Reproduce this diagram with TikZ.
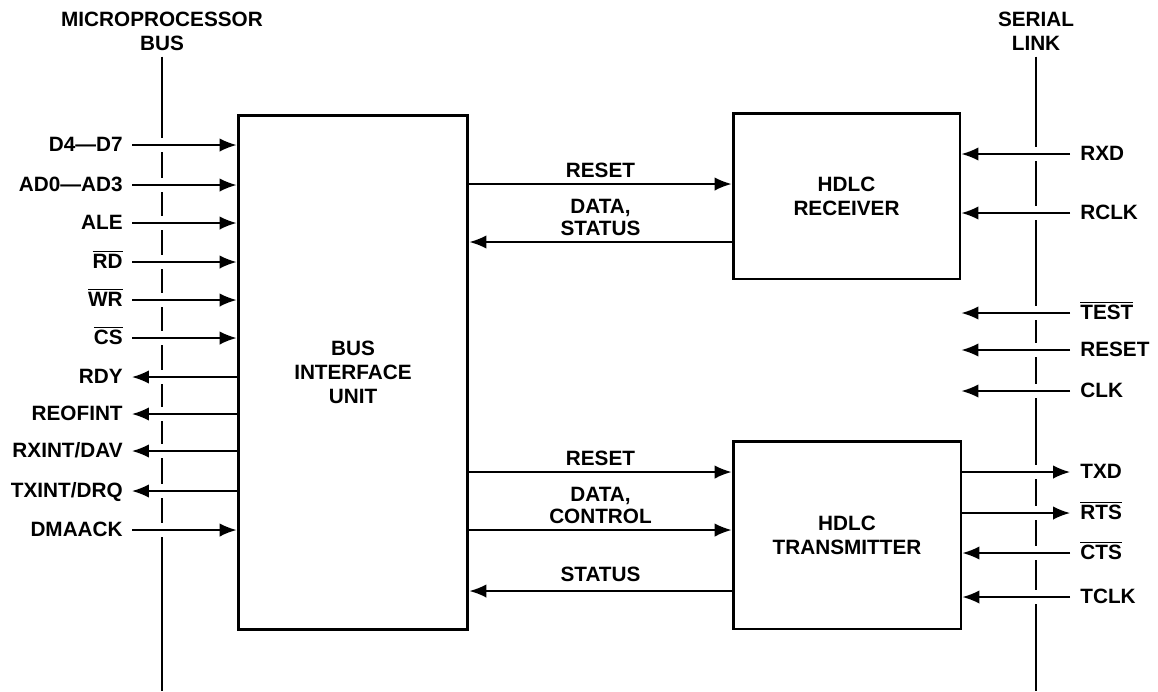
\documentclass[tikz,border=0pt]{standalone}
\usepackage{fontspec}
\setmainfont{Liberation Sans}
\usetikzlibrary{arrows.meta}
\newcommand{\ovl}[1]{$\overline{\mbox{#1}}$}

\begin{document}
\begin{tikzpicture}[x=0.02cm,y=-0.02cm,
	font=\bfseries\fontsize{11.8}{12.5}\selectfont,
	box/.style={draw,line width=1.7pt,align=center,inner sep=0pt,font=\bfseries\fontsize{11.8}{13.5}\selectfont},
	bus/.style={line width=1.3pt},
	wire/.style={line width=1pt},
	sig/.style={wire,preaction={draw=white,line width=0.28cm,arrows=-,shorten <=0.1cm,shorten >=0.1cm}},
	ahead/.style={-{Latex[length=0.34cm,width=0.27cm]}},
	lsig/.style={anchor=east,inner xsep=0.18cm,inner ysep=0pt,text height=0.72em,text depth=0pt},
	rsig/.style={anchor=west,inner xsep=0.2cm,inner ysep=0pt,text height=0.72em,text depth=0pt},
	mid/.style={midway,anchor=south,align=center,inner ysep=0.12cm,text depth=0pt}]
	\useasboundingbox (0,0) rectangle (1158,691);
	\coordinate (bot) at (0,691);

	% the two buses
	\node[align=center,inner sep=0.12cm,font=\bfseries\fontsize{11.8}{13.7}\selectfont] (mpbus) at (162,31) {MICROPROCESSOR\\BUS};
	\node[align=center,inner sep=0.12cm,font=\bfseries\fontsize{11.8}{13.7}\selectfont] (serlink) at (1036,31) {SERIAL\\LINK};
	\draw[bus] (mpbus.south) -- (mpbus.south |- bot);
	\draw[bus] (serlink.south) -- (serlink.south |- bot);

	% blocks
	\node[box,minimum width=4.6cm,minimum height=10.3cm] (biu) at (353,372.5) {BUS\\INTERFACE\\UNIT};
	\node[box,minimum width=4.54cm,minimum height=3.32cm] (rcv) at (846.5,196) {HDLC\\RECEIVER};
	\node[box,minimum width=4.56cm,minimum height=3.76cm] (xmt) at (847,535) {HDLC\\TRANSMITTER};

	% microprocessor side
	\node[lsig] (d47) at (132,145) {D4---D7};
	\node[lsig] (ad03) at (132,185) {AD0---AD3};
	\node[lsig] (ale) at (132,223) {ALE};
	\node[lsig] (rd) at (132,262) {\ovl{RD}};
	\node[lsig] (wr) at (132,300) {\ovl{WR}};
	\node[lsig] (cs) at (132,338) {\ovl{CS}};
	\node[lsig] (rdy) at (132,377) {RDY};
	\node[lsig] (reof) at (132,414) {REOFINT};
	\node[lsig] (rxint) at (132,451) {RXINT/DAV};
	\node[lsig] (txint) at (132,491) {TXINT/DRQ};
	\node[lsig] (dmaack) at (132,530) {DMAACK};
	\draw[sig,ahead] (d47) -- (d47 -| biu.west);
	\draw[sig,ahead] (ad03) -- (ad03 -| biu.west);
	\draw[sig,ahead] (ale) -- (ale -| biu.west);
	\draw[sig,ahead] (rd) -- (rd -| biu.west);
	\draw[sig,ahead] (wr) -- (wr -| biu.west);
	\draw[sig,ahead] (cs) -- (cs -| biu.west);
	\draw[sig,ahead] (rdy -| biu.west) -- (rdy);
	\draw[sig,ahead] (reof -| biu.west) -- (reof);
	\draw[sig,ahead] (rxint -| biu.west) -- (rxint);
	\draw[sig,ahead] (txint -| biu.west) -- (txint);
	\draw[sig,ahead] (dmaack) -- (dmaack -| biu.west);

	% serial side
	\node[rsig] (rxd) at (1070,154) {RXD};
	\node[rsig] (rclk) at (1070,213) {RCLK};
	\node[rsig] (test) at (1070,313) {\ovl{TEST}};
	\node[rsig] (reset) at (1070,350) {RESET};
	\node[rsig] (clk) at (1070,391) {CLK};
	\node[rsig] (txd) at (1070,472) {TXD};
	\node[rsig] (rts) at (1070,513) {\ovl{RTS}};
	\node[rsig] (cts) at (1070,553) {\ovl{CTS}};
	\node[rsig] (tclk) at (1070,597) {TCLK};
	\draw[sig,ahead] (rxd) -- (rxd -| rcv.east);
	\draw[sig,ahead] (rclk) -- (rclk -| rcv.east);
	\draw[sig,ahead] (test) -- (test -| rcv.east);
	\draw[sig,ahead] (reset) -- (reset -| rcv.east);
	\draw[sig,ahead] (clk) -- (clk -| rcv.east);
	\draw[sig,ahead] (txd -| xmt.east) -- (txd);
	\draw[sig,ahead] (rts -| xmt.east) -- (rts);
	\draw[sig,ahead] (cts) -- (cts -| xmt.east);
	\draw[sig,ahead] (tclk) -- (tclk -| xmt.east);

	% between the blocks
	\coordinate (r1) at (600,184);
	\coordinate (r2) at (600,242);
	\coordinate (t1) at (600,472);
	\coordinate (t2) at (600,530);
	\coordinate (t3) at (600,591);
	\draw[wire,ahead] (biu.east |- r1) -- node[mid] {RESET} (rcv.west |- r1);
	\draw[wire,ahead] (rcv.west |- r2) -- node[mid] {DATA,\\STATUS} (biu.east |- r2);
	\draw[wire,ahead] (biu.east |- t1) -- node[mid] {RESET} (xmt.west |- t1);
	\draw[wire,ahead] (biu.east |- t2) -- node[mid] {DATA,\\CONTROL} (xmt.west |- t2);
	\draw[wire,ahead] (xmt.west |- t3) -- node[mid,inner ysep=0.17cm] {STATUS} (biu.east |- t3);
\end{tikzpicture}
\end{document}
